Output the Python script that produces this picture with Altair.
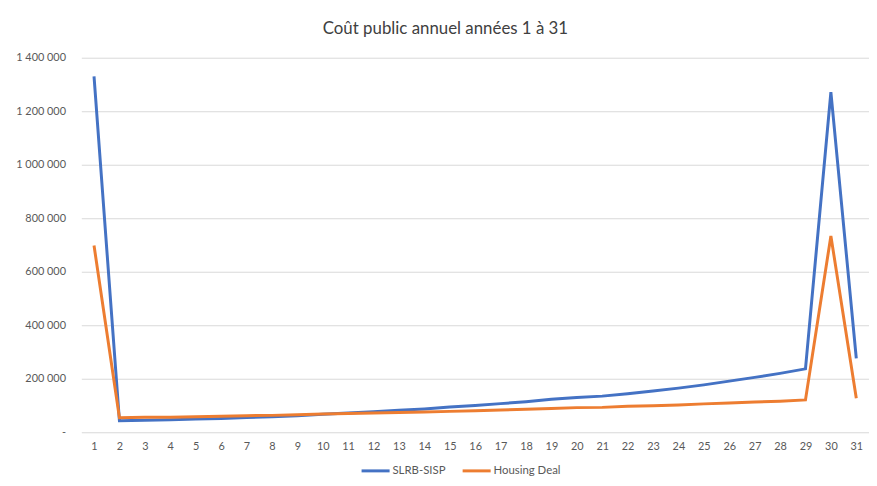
import altair as alt
import pandas as pd

years = list(range(1, 32))
slrb_sisp = [1330000, 43000, 45000, 47000, 49000, 51000, 55000, 58000, 62000, 67000,
             72000, 77000, 82000, 87000, 94000, 100000, 107000, 114000, 123000, 130000,
             135000, 144000, 154000, 165000, 177000, 191000, 205000, 220000, 237000, 1271000,
             276000]
housing_deal = [698000, 54000, 56000, 56000, 58000, 60000, 62000, 63000, 65000, 68000,
                70000, 72000, 74000, 76000, 78000, 80000, 83000, 86000, 89000, 92000,
                93000, 97000, 99000, 102000, 106000, 109000, 113000, 116000, 121000, 734000,
                127000]
series_names = ["SLRB-SISP", "Housing Deal"]
series_colors = ["#4472C4", "#ED7D31"]

df = pd.concat([
    pd.DataFrame({"Année": years, "Coût": slrb_sisp, "Série": series_names[0]}),
    pd.DataFrame({"Année": years, "Coût": housing_deal, "Série": series_names[1]}),
])

FONT = "Lato"

chart = alt.Chart(df).mark_line(strokeWidth=3).encode(
    x=alt.X("Année:O", title=None,
            scale=alt.Scale(type="point", padding=0.5),
            axis=alt.Axis(labelAngle=0, ticks=False, domain=False, grid=False,
                          labelPadding=8, labelColor="#595959", labelFontSize=11,
                          labelFont=FONT)),
    y=alt.Y("Coût:Q", title=None,
            scale=alt.Scale(domain=[0, 1400000], nice=False),
            axis=alt.Axis(values=[0, 200000, 400000, 600000, 800000, 1000000, 1200000, 1400000],
                          labelExpr="datum.value == 0 ? '-' : replace(format(datum.value, ','), regexp(',', 'g'), ' ')",
                          ticks=False, domain=False, gridColor="#D9D9D9", gridWidth=1,
                          labelPadding=16, labelColor="#595959", labelFontSize=11,
                          labelFont=FONT)),
    color=alt.Color("Série:N", title=None,
                    scale=alt.Scale(domain=series_names, range=series_colors),
                    legend=alt.Legend(orient="none", direction="horizontal",
                                      legendX=281, legendY=401,
                                      symbolType="stroke", symbolSize=800,
                                      symbolStrokeWidth=3, labelFont=FONT,
                                      labelFontSize=11.5, labelColor="#595959",
                                      columnPadding=10, labelOffset=1)),
).properties(
    width=795, height=378,
    title=alt.TitleParams("Coût public annuel années 1 à 31", font=FONT, fontSize=17,
                          fontWeight="normal", color="#404040", anchor="middle",
                          dx=-30, offset=14),
    padding={"left": 74, "top": 48, "right": 0, "bottom": 44},
    autosize=alt.AutoSizeParams(type="none"),
).configure_view(stroke=None)

chart.save("out.html", embed_options={"renderer": "svg", "actions": False})
